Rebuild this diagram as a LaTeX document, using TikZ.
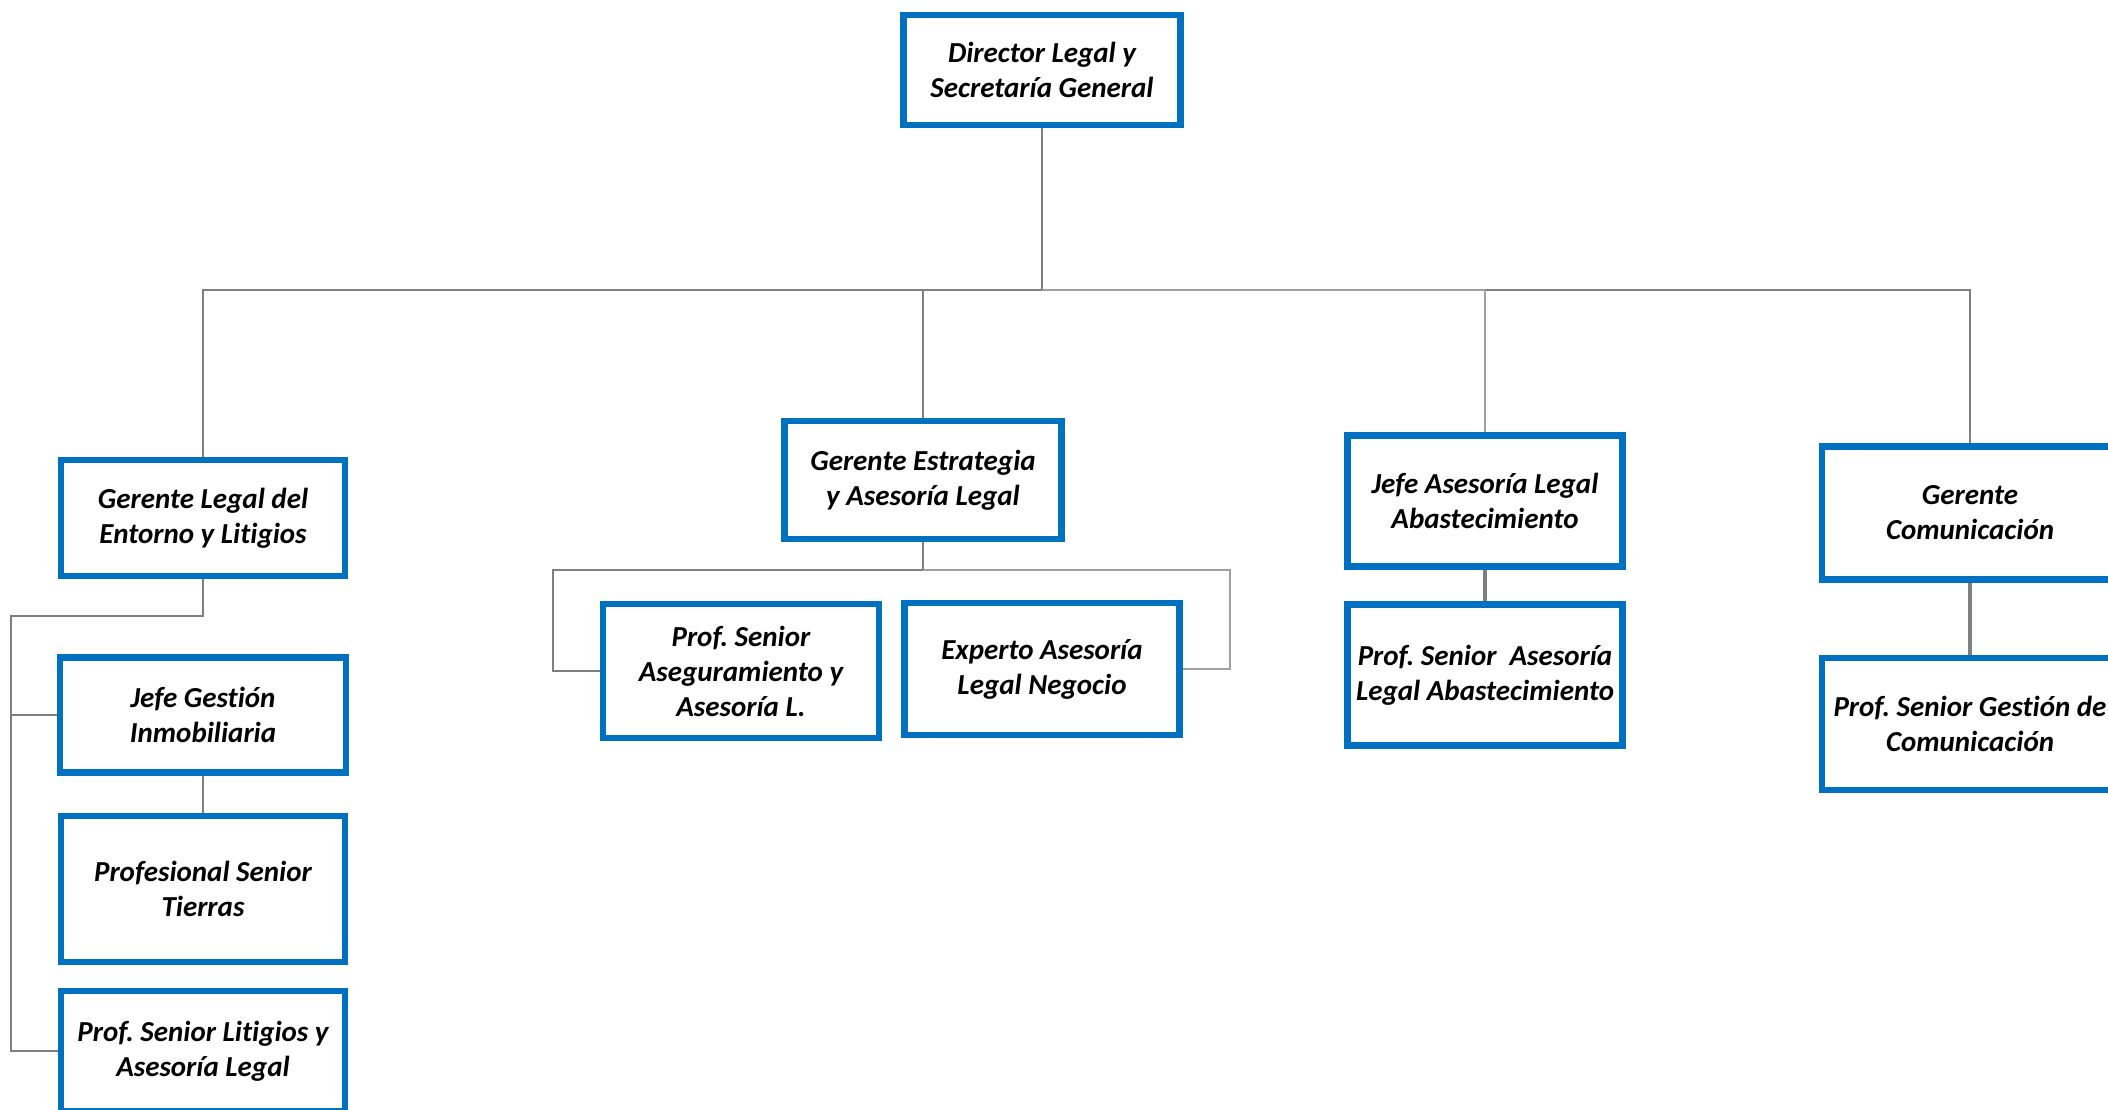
\documentclass[tikz,border=0pt]{standalone}
\usepackage{fontspec}
\setmainfont[Ligatures={NoCommon}]{Carlito}
\usetikzlibrary{backgrounds}
\pgfdeclarelayer{paper}
\pgfsetlayers{paper,background,main}
\definecolor{boxblue}{HTML}{0070C0}
\definecolor{linegrey}{HTML}{7F7F7F}
\definecolor{lightgrey}{HTML}{A0A0A0}
\tikzset{
  orgbox/.style={draw=boxblue, line width=6.5pt, fill=white, align=center,
    font=\fontsize{29}{35}\selectfont\bfseries\itshape, inner sep=0pt},
  conn/.style={draw=linegrey, line width=2.2pt},
  connlight/.style={draw=lightgrey, line width=2pt},
  connthick/.style={draw=linegrey, line width=4.5pt}
}
\begin{document}
\frenchspacing
\begin{tikzpicture}[x=1pt,y=-1pt]
\begin{pgfonlayer}{paper}
\fill[white] (0,0) rectangle (2108,1110);
\end{pgfonlayer}
\useasboundingbox (0,0) rectangle (2108,1110);

% top
\node[orgbox, minimum width=277pt, minimum height=110pt] (dir) at (1042,70) {Director Legal y\\Secretaría General};

% level 2
\node[orgbox, minimum width=284pt, minimum height=116pt] (gl) at (203,518) {Gerente Legal del\\Entorno y Litigios};
\node[orgbox, minimum width=277pt, minimum height=118pt] (ge) at (923,480) {Gerente Estrategia\\y Asesoría Legal};
\node[orgbox, minimum width=275pt, minimum height=131pt] (ja) at (1485,501) {Jefe Asesoría Legal\\Abastecimiento};
\node[orgbox, minimum width=296pt, minimum height=133pt] (gc) at (1970,513) {Gerente\\Comunicación};

% under Gerente Legal
\node[orgbox, minimum width=286pt, minimum height=115pt] (jg) at (203,715) {Jefe Gestión\\Inmobiliaria};
\node[orgbox, minimum width=284pt, minimum height=146pt] (ti) at (203,889) {Profesional Senior\\Tierras};
\node[orgbox, minimum width=284pt, minimum height=120pt] (li) at (203,1051) {Prof. Senior Litigios y\\Asesoría Legal};

% under Gerente Estrategia
\node[orgbox, minimum width=276pt, minimum height=134pt] (as) at (741,671) {Prof. Senior\\Aseguramiento y\\Asesoría L.};
\node[orgbox, minimum width=275pt, minimum height=132pt] (ex) at (1042,669) {Experto Asesoría\\Legal Negocio};

% under Jefe Asesoria
\node[orgbox, minimum width=275pt, minimum height=141pt] (pa) at (1485,675) {Prof. Senior~~Asesoría\\Legal Abastecimiento};

% under Gerente Comunicacion
\node[orgbox, minimum width=296pt, minimum height=132pt] (pc) at (1970,724) {Prof. Senior Gestión de\\Comunicación};

\coordinate (bus) at (1042,290);
\coordinate (lb) at (11,616);
\coordinate (el) at (553,570);
\coordinate (er) at (1230,570);

\begin{scope}[on background layer]
  \draw[conn] (dir.south) -- (bus) -| (gl.north);
  \draw[conn] (bus) -| (ge.north);
  \draw[conn] (bus) -| (gc.north);
  \draw[connlight] (bus) -| (ja.north);
  % Gerente Legal branch
  \draw[conn] (gl.south) |- (lb) |- (li.west);
  \draw[conn] (lb |- jg.west) -- (jg.west);
  \draw[conn] (jg.south) -- (ti.north);
  % Estrategia branch
  \draw[conn] (ge.south) |- (el) |- (as.west);
  \draw[connlight] (ge.south |- el) -- (er) |- (ex.east);
  % thick connectors
  \draw[connthick] (ja.south) -- (pa.north);
  \draw[connthick] (gc.south) -- (pc.north);
\end{scope}
\end{tikzpicture}
\end{document}
